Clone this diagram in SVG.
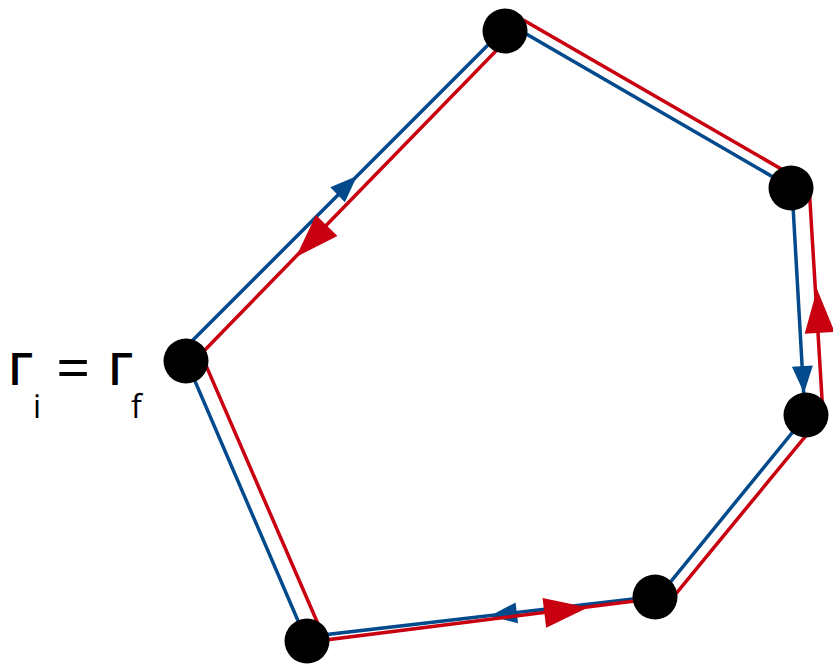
<svg xmlns="http://www.w3.org/2000/svg" width="833" height="666" viewBox="0 0 833 666">
<style>
.blue{fill:none;stroke:#034a8c;stroke-width:3.5;stroke-linejoin:miter}
.red{fill:none;stroke:#c8000f;stroke-width:3.5;stroke-linejoin:miter}
.node{fill:#000}
.lbl{font-family:"Open Sans","Noto Sans",sans-serif;fill:#000}
</style>
<defs>
<polygon id="ab" points="0,0 -27,-10.5 -27,10.5" fill="#034a8c"/>
<polygon id="ar" points="0,0 -44,-15 -44,15" fill="#c8000f"/>
</defs>
<g id="connectors">
<polygon class="blue" points="182,351 509,24 792,188 805,417 659,596 305,637"/>
<use href="#ab" transform="translate(357,176) rotate(-44)"/>
<use href="#ab" transform="translate(804,393) rotate(86.6)"/>
<use href="#ab" transform="translate(490,616) rotate(173.2)"/>
<polygon class="red" points="201,354 525,21 809,185 823,415 674,596 325,640"/>
<use href="#ar" transform="translate(296,257) rotate(134.2)"/>
<use href="#ar" transform="translate(817,289) rotate(-93.5)"/>
<use href="#ar" transform="translate(588,607.5) rotate(-7.1)"/>
</g>
<g id="n1"><circle class="node" cx="186" cy="361" r="22.5"/></g>
<g id="n2"><circle class="node" cx="505" cy="31" r="22.5"/></g>
<g id="n3"><circle class="node" cx="791" cy="188" r="22.5"/></g>
<g id="n4"><circle class="node" cx="806" cy="415" r="22.5"/></g>
<g id="n5"><circle class="node" cx="655" cy="597" r="22.5"/></g>
<g id="n6"><circle class="node" cx="307" cy="641" r="22.5"/></g>
<g id="label">
<text class="lbl" font-size="46" font-weight="600"><tspan x="8" y="385">Γ</tspan><tspan x="108" y="385">Γ</tspan></text>
<text class="lbl" font-size="60"><tspan x="56" y="389">=</tspan></text>
<text class="lbl" font-size="32"><tspan x="33" y="418">i</tspan><tspan x="131" y="418">f</tspan></text>
</g>
</svg>
